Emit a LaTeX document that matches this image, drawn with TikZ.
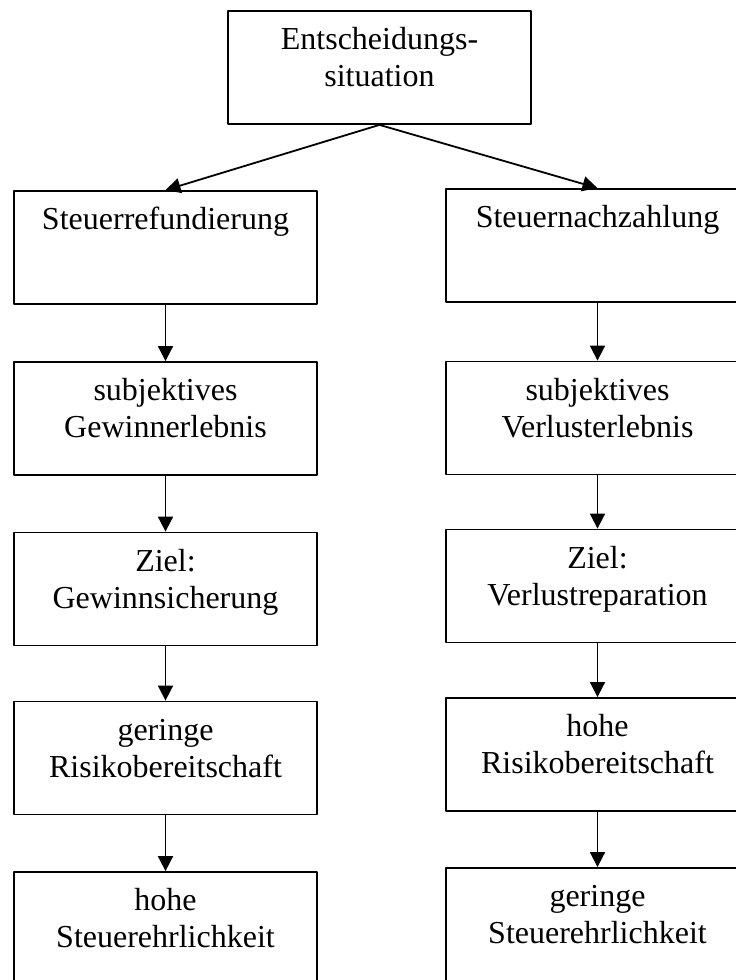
\documentclass[tikz,border=0pt]{standalone}
\usepackage{fontspec}
\setmainfont{Liberation Serif}
\usetikzlibrary{arrows.meta}
\tikzset{
  flowbox/.style={draw,line width=1.8bp,inner sep=0pt,text width=303bp,align=center,
    text height=39bp,text depth=74bp,font=\fontsize{32bp}{36.8bp}\selectfont},
}
\begin{document}
\begin{tikzpicture}[>={Triangle[length=15bp,width=15bp]},line join=bevel,line width=1.8bp]
\useasboundingbox (0bp,0bp) rectangle (736bp,980bp);
\clip (0bp,0bp) rectangle (736bp,980bp);
%%
\node (node_situation) at (379.5bp,912.5bp) [flowbox] {Entscheidungs-\\situation};
%
\node (node_refund) at (165.5bp,732.5bp) [flowbox] {Steuerrefundierung};
  \node (node_gewinn) at (165.5bp,561.5bp) [flowbox] {subjektives\\Gewinnerlebnis};
  \node (node_sicherung) at (165.5bp,391.0bp) [flowbox] {Ziel:\\Gewinnsicherung};
  \node (node_geringrisk) at (165.5bp,222.0bp) [flowbox] {geringe\\Risikobereitschaft};
  \node (node_hochehrl) at (165.5bp,51.5bp) [flowbox] {hohe\\Steuerehrlichkeit};
%
\node (node_nachzahl) at (597.5bp,734.5bp) [flowbox] {Steuernachzahlung};
  \node (node_verlust) at (597.5bp,562.0bp) [flowbox] {subjektives\\Verlusterlebnis};
  \node (node_reparation) at (597.5bp,394.0bp) [flowbox] {Ziel:\\Verlustreparation};
  \node (node_hochrisk) at (597.5bp,225.5bp) [flowbox] {hohe\\Risikobereitschaft};
  \node (node_geringehrl) at (597.5bp,55.5bp) [flowbox] {geringe\\Steuerehrlichkeit};
%
\draw [black,->] (node_situation.south) -- (node_refund.north);
  \draw [black,->] (node_situation.south) -- (node_nachzahl.north);
  \draw [black,->] (node_refund) -- (node_gewinn);
  \draw [black,->] (node_gewinn) -- (node_sicherung);
  \draw [black,->] (node_sicherung) -- (node_geringrisk);
  \draw [black,->] (node_geringrisk) -- (node_hochehrl);
  \draw [black,->] (node_nachzahl) -- (node_verlust);
  \draw [black,->] (node_verlust) -- (node_reparation);
  \draw [black,->] (node_reparation) -- (node_hochrisk);
  \draw [black,->] (node_hochrisk) -- (node_geringehrl);
%
\end{tikzpicture}
\end{document}
